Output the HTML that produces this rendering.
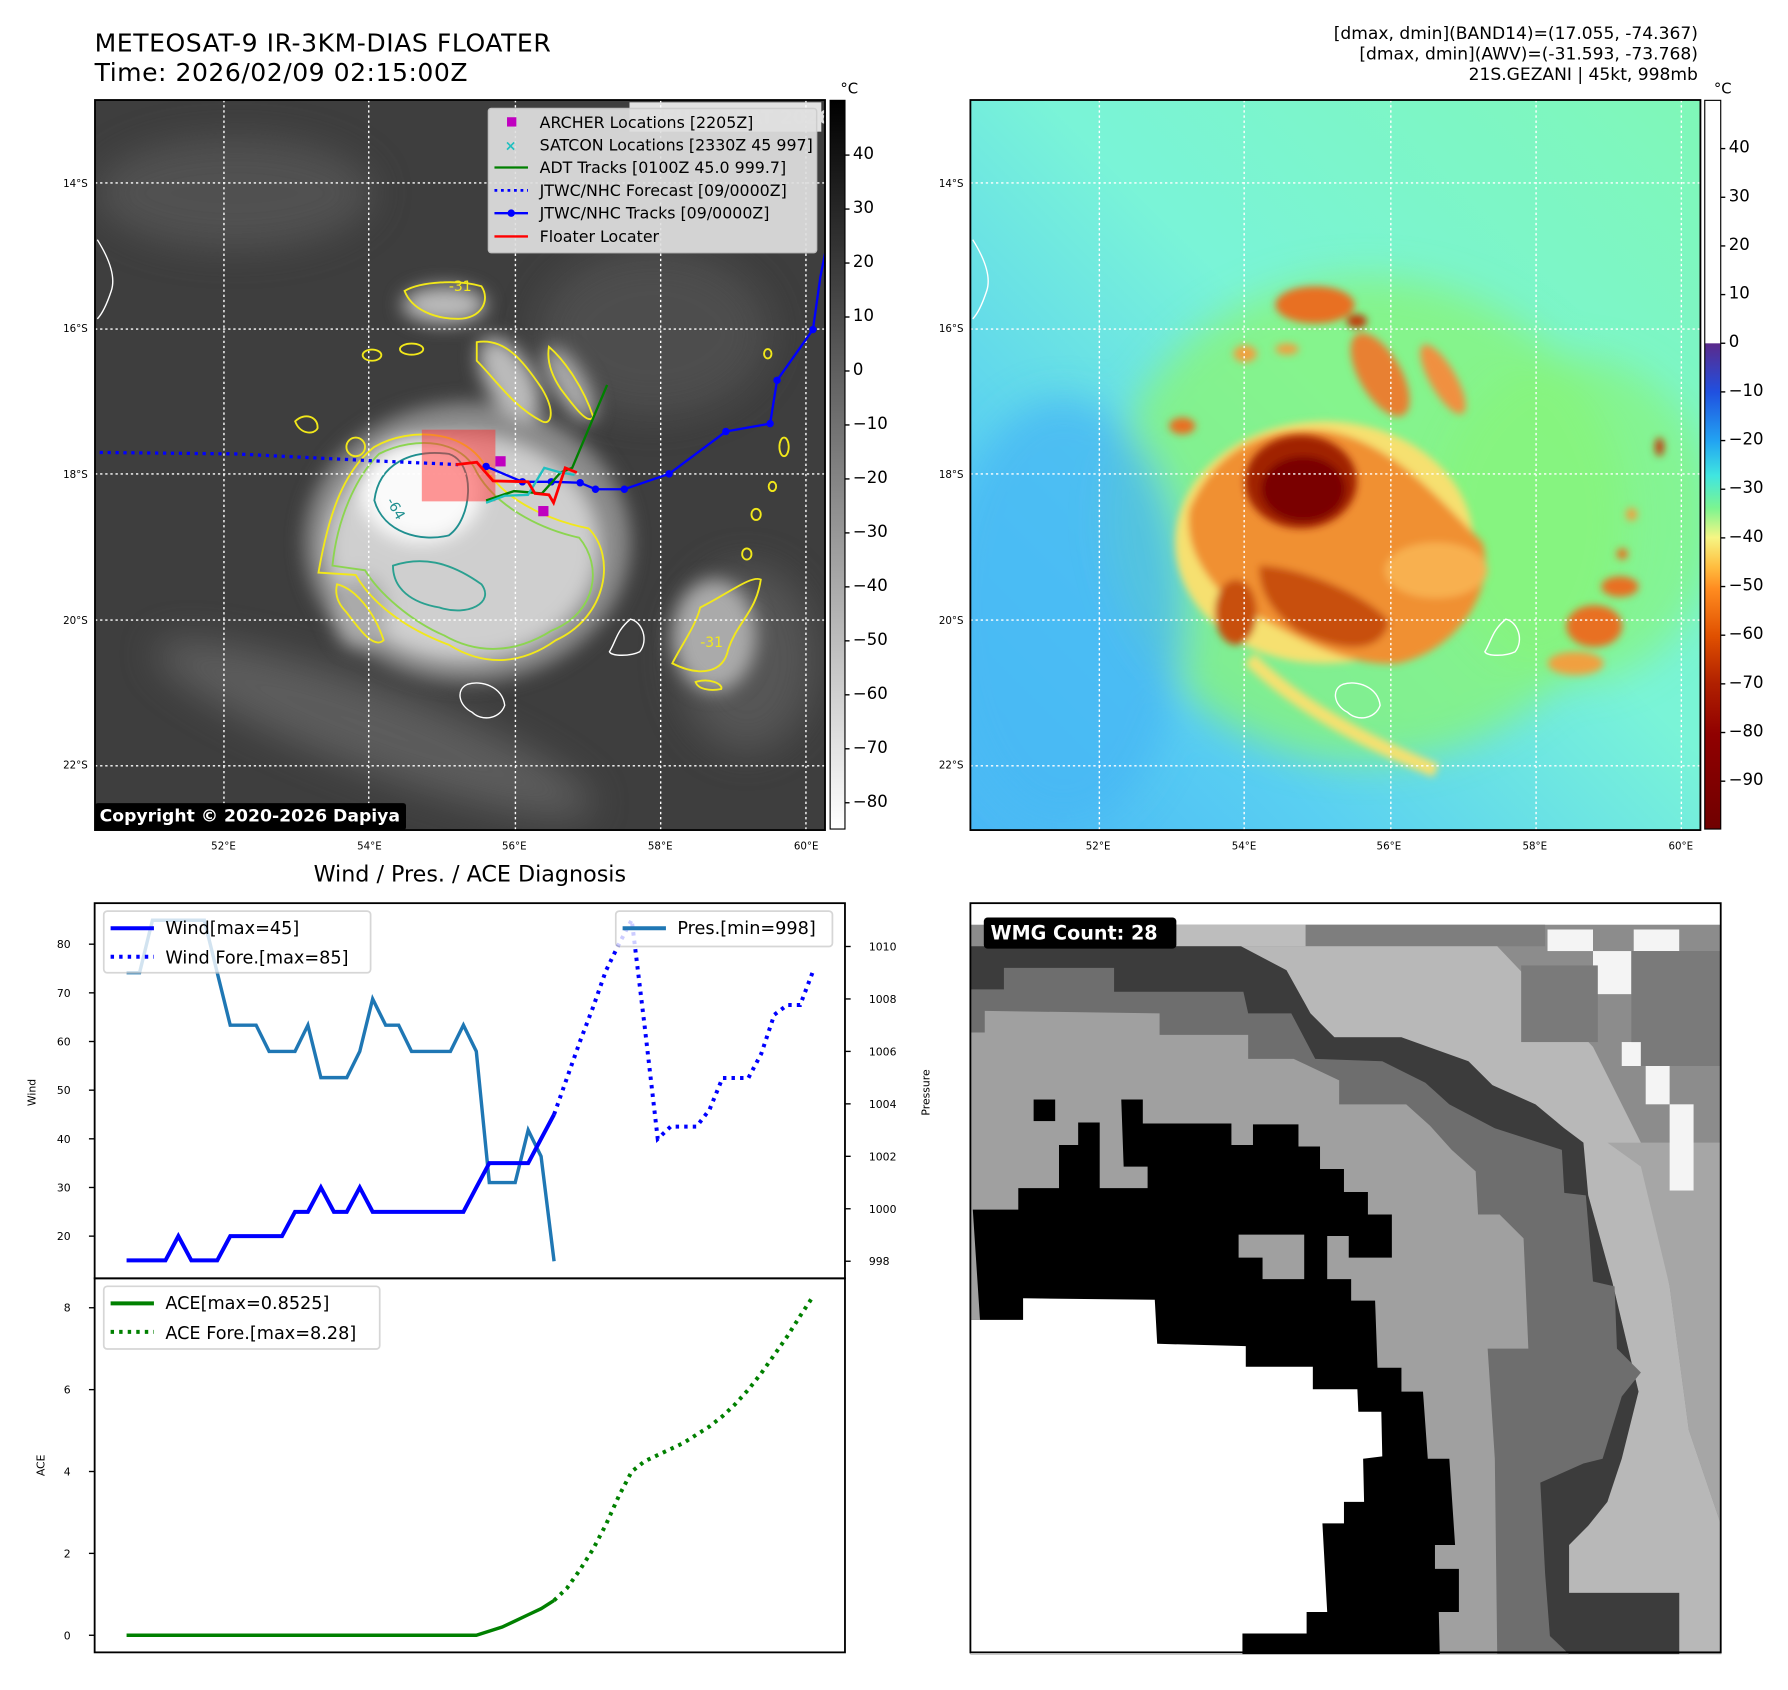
<!DOCTYPE html>
<html><head><meta charset="utf-8">
<style>
html,body{margin:0;padding:0;background:#fff;}
svg{display:block;font-family:"DejaVu Sans","Liberation Sans",sans-serif;}
</style></head>
<body>
<svg id="root" width="1788" height="1690" viewBox="0 0 1568 1482" preserveAspectRatio="none" xmlns="http://www.w3.org/2000/svg">
<defs>
<filter id="b8" x="-30%" y="-30%" width="160%" height="160%"><feGaussianBlur stdDeviation="8"/></filter>
<filter id="b20" x="-30%" y="-30%" width="160%" height="160%"><feGaussianBlur stdDeviation="20"/></filter>
<filter id="b40" x="-50%" y="-50%" width="200%" height="200%"><feGaussianBlur stdDeviation="40"/></filter>
<linearGradient id="gcb" x1="0" y1="0" x2="0" y2="1"><stop offset="0" stop-color="#000"/><stop offset="1" stop-color="#fff"/></linearGradient>
<linearGradient id="jcb" x1="0" y1="0" x2="0" y2="1">
<stop offset="0" stop-color="#fff"/><stop offset="0.333" stop-color="#fff"/>
<stop offset="0.334" stop-color="#5a2a8c"/><stop offset="0.40" stop-color="#2050e0"/>
<stop offset="0.468" stop-color="#22a4f2"/><stop offset="0.515" stop-color="#40e6e0"/>
<stop offset="0.56" stop-color="#7cf590"/><stop offset="0.60" stop-color="#f6f684"/>
<stop offset="0.64" stop-color="#ffbe40"/><stop offset="0.67" stop-color="#ff8c20"/>
<stop offset="0.735" stop-color="#e05000"/><stop offset="0.80" stop-color="#b02000"/>
<stop offset="0.87" stop-color="#900000"/><stop offset="1" stop-color="#700000"/></linearGradient>
<linearGradient id="bgR" x1="1" y1="0" x2="0" y2="1">
<stop offset="0" stop-color="#80f8b8"/><stop offset="0.45" stop-color="#7af4d8"/><stop offset="0.75" stop-color="#5ad0f2"/><stop offset="1" stop-color="#4ab8f6"/></linearGradient>
<clipPath id="clipL"><rect x="0" y="0" width="1568" height="1568"/></clipPath>
</defs>

<!-- titles -->
<text x="83" y="45" font-size="22" textLength="400">METEOSAT-9 IR-3KM-DIAS FLOATER</text>
<text x="83" y="71" font-size="22" textLength="327">Time: 2026/02/09 02:15:00Z</text>
<g font-size="15" text-anchor="end">
<text x="1489" y="34">[dmax, dmin](BAND14)=(17.055, -74.367)</text>
<text x="1489" y="52">[dmax, dmin](AWV)=(-31.593, -73.768)</text>
<text x="1489" y="70">21S.GEZANI | 45kt, 998mb</text>
</g>

<!-- LEFT MAP -->
<g>
<g transform="translate(83.3,87.7) scale(0.4083)" clip-path="url(#clipL)">
<rect x="0" y="0" width="1568" height="1568" fill="#3e3e3e"/>
<g filter="url(#b40)" opacity="0.7">
<ellipse cx="300" cy="200" rx="300" ry="120" fill="#5a5a5a"/>
<ellipse cx="1200" cy="500" rx="250" ry="180" fill="#555"/>
<ellipse cx="600" cy="1350" rx="500" ry="90" fill="#6a6a6a" transform="rotate(20 600 1350)"/>
<ellipse cx="1400" cy="1200" rx="150" ry="200" fill="#606060"/>
</g>
<g filter="url(#b20)">
<ellipse cx="800" cy="950" rx="350" ry="300" fill="#8a8a8a"/>
<ellipse cx="790" cy="960" rx="290" ry="240" fill="#cfcfcf"/>
<ellipse cx="700" cy="840" rx="130" ry="110" fill="#fafafa"/>
<ellipse cx="750" cy="440" rx="90" ry="40" fill="#bbb"/>
<ellipse cx="890" cy="600" rx="50" ry="100" fill="#bbb" transform="rotate(-30 890 600)"/>
<ellipse cx="1020" cy="610" rx="35" ry="90" fill="#aaa" transform="rotate(-30 1020 610)"/>
<ellipse cx="1330" cy="1150" rx="90" ry="120" fill="#aaa"/>
<ellipse cx="570" cy="1100" rx="60" ry="80" fill="#aaa"/>
</g>
<g fill="none" stroke-width="4">
<path d="M480,1015 C500,900 530,800 600,745 C680,700 800,710 840,790 C870,850 960,900 1060,920 C1120,980 1100,1110 990,1160 C920,1210 840,1220 760,1170 C680,1140 600,1090 560,1020 Z" stroke="#f2e81a"/>
<path d="M510,1000 C520,900 560,810 610,760 C690,720 790,730 820,800 C860,870 950,920 1040,940 C1090,1000 1080,1100 980,1140 C900,1190 820,1190 750,1150 C680,1120 610,1060 580,1010 Z" stroke="#8cd550"/>
<path d="M600,860 C610,780 680,750 760,760 C820,780 810,900 760,935 C700,950 620,930 600,860 Z" stroke="#1f8f8f"/>
<path d="M640,1000 C700,980 760,990 830,1040 C860,1080 800,1110 740,1090 C680,1080 640,1050 640,1000 Z" stroke="#2aa090"/>
<path d="M665,410 C700,390 780,385 830,400 C850,430 830,470 780,470 C730,470 680,450 665,410 Z" stroke="#f2e81a"/>
<path d="M820,520 C880,510 920,560 960,620 C990,670 980,700 960,690 C900,660 860,600 820,560 Z" stroke="#f2e81a"/>
<path d="M975,530 C1010,560 1050,620 1070,680 C1060,700 1030,660 1000,620 C980,590 970,560 975,530 Z" stroke="#f2e81a"/>
<path d="M430,690 C450,670 480,680 478,705 C470,720 440,718 430,690 Z" stroke="#f2e81a"/>
<path d="M1300,1090 C1360,1060 1410,1020 1430,1030 C1420,1100 1380,1120 1360,1180 C1350,1230 1300,1240 1240,1210 C1260,1170 1290,1130 1300,1090 Z" stroke="#f2e81a"/>
<path d="M520,1040 C560,1050 600,1100 620,1160 C600,1180 570,1140 540,1100 C520,1080 515,1060 520,1040 Z" stroke="#f2e81a"/>
<path d="M1290,1250 C1320,1240 1350,1255 1345,1265 C1320,1270 1295,1265 1290,1250 Z" stroke="#f2e81a"/>
<ellipse cx="1480" cy="745" rx="10" ry="20" stroke="#f2e81a"/>
<ellipse cx="1420" cy="890" rx="10" ry="12" stroke="#f2e81a"/>
<ellipse cx="1400" cy="975" rx="10" ry="12" stroke="#f2e81a"/>
<ellipse cx="1455" cy="830" rx="8" ry="10" stroke="#f2e81a"/>
<ellipse cx="1445" cy="545" rx="8" ry="10" stroke="#f2e81a"/>
<ellipse cx="560" cy="745" rx="20" ry="20" stroke="#f2e81a"/>
<ellipse cx="680" cy="535" rx="25" ry="12" stroke="#f2e81a"/>
<ellipse cx="595" cy="548" rx="20" ry="12" stroke="#f2e81a"/>
<text x="620" y="870" fill="#1f8f8f" font-size="30" stroke="none" transform="rotate(60 630 870)">-64</text>
<text x="760" y="410" fill="#f2e81a" font-size="30" stroke="none">-31</text>
<text x="1300" y="1175" fill="#f2e81a" font-size="30" stroke="none">-31</text>
</g>
<g fill="none" stroke="#fff" stroke-width="3">
<path d="M5,300 C30,340 45,380 35,410 C25,440 15,460 5,470"/>
<path d="M1150,1115 C1175,1120 1190,1160 1170,1185 C1150,1195 1110,1195 1105,1185 C1120,1160 1120,1140 1150,1115 Z"/>
<path d="M800,1255 C830,1245 875,1260 880,1300 C870,1330 830,1335 810,1315 C780,1300 775,1265 800,1255 Z"/>
</g>
<g stroke="#fff" stroke-width="3" stroke-dasharray="5 6">
<line x1="277" y1="0" x2="277" y2="1568"/><line x1="588" y1="0" x2="588" y2="1568"/><line x1="903" y1="0" x2="903" y2="1568"/><line x1="1215" y1="0" x2="1215" y2="1568"/><line x1="1527" y1="0" x2="1527" y2="1568"/>
<line x1="0" y1="178" x2="1568" y2="178"/><line x1="0" y1="492" x2="1568" y2="492"/><line x1="0" y1="803" x2="1568" y2="803"/><line x1="0" y1="1117" x2="1568" y2="1117"/><line x1="0" y1="1430" x2="1568" y2="1430"/>
</g>
<rect x="702" y="708" width="158" height="154" fill="#ff3030" opacity="0.5"/>
<path d="M10,757 L300,760 L600,775 L780,783" fill="none" stroke="#0000ff" stroke-width="7" stroke-dasharray="7 10"/>
<polyline points="840,787 918,820 980,820 1042,822 1075,836 1137,836 1233,803 1355,712 1450,695 1465,602 1542,493 1558,380 1568,330" fill="none" stroke="#0000ff" stroke-width="5"/>
<g fill="#0000ff"><circle cx="840" cy="787" r="8"/><circle cx="918" cy="820" r="8"/><circle cx="980" cy="820" r="8"/><circle cx="1042" cy="822" r="8"/><circle cx="1075" cy="836" r="8"/><circle cx="1137" cy="836" r="8"/><circle cx="1233" cy="803" r="8"/><circle cx="1355" cy="712" r="8"/><circle cx="1450" cy="695" r="8"/><circle cx="1465" cy="602" r="8"/><circle cx="1542" cy="493" r="8"/></g>
<polyline points="840,860 900,840 960,845 1000,800 1025,790 1100,612" fill="none" stroke="#008000" stroke-width="5"/>
<polyline points="840,865 880,850 930,848 965,790 1000,800 1030,805" fill="none" stroke="#20c0c0" stroke-width="5"/>
<polyline points="775,783 820,778 855,818 930,820 945,845 975,848 985,865 1010,790 1035,800" fill="none" stroke="#ff0000" stroke-width="6"/>
<rect x="860" y="765" width="22" height="22" fill="#c000c0"/>
<rect x="952" y="872" width="22" height="22" fill="#c000c0"/>
<rect x="1148" y="5" width="412" height="63" fill="#fff" opacity="0.85"/>
<text x="1165" y="50" font-size="40" fill="#ddd" font-weight="bold">© EUMETSAT 2026</text>
<g>
<rect x="845" y="18" width="705" height="310" rx="6" fill="#e0e0e0" opacity="0.92" stroke="#ccc" stroke-width="3"/>
<g font-size="34" fill="#000">
<rect x="885" y="37" width="20" height="20" fill="#c000c0"/><text x="955" y="60">ARCHER Locations [2205Z]</text>
<text x="880" y="109" fill="#20c0c0" font-size="30" font-weight="bold">×</text><text x="955" y="109">SATCON Locations [2330Z 45 997]</text>
<line x1="858" y1="145" x2="930" y2="145" stroke="#008000" stroke-width="5"/><text x="955" y="157">ADT Tracks [0100Z 45.0 999.7]</text>
<line x1="858" y1="194" x2="930" y2="194" stroke="#0000ff" stroke-width="6" stroke-dasharray="6 8"/><text x="955" y="206">JTWC/NHC Forecast [09/0000Z]</text>
<line x1="858" y1="243" x2="930" y2="243" stroke="#0000ff" stroke-width="5"/><circle cx="894" cy="243" r="8" fill="#0000ff"/><text x="955" y="255">JTWC/NHC Tracks [09/0000Z]</text>
<line x1="858" y1="293" x2="930" y2="293" stroke="#ff0000" stroke-width="5"/><text x="955" y="305">Floater Locater</text>
</g></g>
<rect x="0" y="1510" width="668" height="58" rx="6" fill="#000"/>
<text x="10" y="1550" font-size="37" font-weight="bold" fill="#fff">Copyright © 2020-2026 Dapiya</text>
</g>
<rect x="83.3" y="87.7" width="640.2" height="640.2" fill="none" stroke="#000" stroke-width="1.6"/>
</g>
<g font-size="9">
<g text-anchor="end"><text x="77" y="164">14°S</text><text x="77" y="291">16°S</text><text x="77" y="419">18°S</text><text x="77" y="547">20°S</text><text x="77" y="674">22°S</text></g>
<g text-anchor="middle"><text x="196" y="745">52°E</text><text x="324" y="745">54°E</text><text x="451" y="745">56°E</text><text x="579" y="745">58°E</text><text x="707" y="745">60°E</text></g>
</g>
<!-- colorbar 1 -->
<g>
<rect x="728" y="88" width="13" height="639" fill="url(#gcb)" stroke="#000" stroke-width="1"/>
<text x="737" y="82" font-size="13">°C</text>
<g font-size="14.5" id="cb1"></g>
</g>
<!-- RIGHT MAP -->
<g>
<g transform="translate(851,87.7) scale(0.4083)" clip-path="url(#clipL)">
<rect x="0" y="0" width="1568" height="1568" fill="url(#bgR)"/>
<g filter="url(#b40)">
<ellipse cx="850" cy="900" rx="560" ry="520" fill="#88f47a" opacity="0.8"/>
<ellipse cx="1300" cy="900" rx="300" ry="350" fill="#88f47a" opacity="0.7"/>
<ellipse cx="200" cy="1100" rx="260" ry="460" fill="#48b8f4" opacity="0.8"/>
</g>
<g filter="url(#b8)">
<ellipse cx="760" cy="950" rx="320" ry="260" fill="#f6e070"/>
<path d="M470,880 C520,760 620,700 760,710 C900,730 1000,850 1100,950 C1130,1050 1050,1180 920,1210 C780,1220 650,1120 560,1080 C500,1020 460,960 470,880 Z" fill="#f09030"/>
<path d="M620,1000 C700,1000 850,1060 900,1120 C880,1200 780,1180 700,1140 C650,1100 620,1060 620,1000 Z" fill="#c85010"/>
<ellipse cx="1000" cy="1010" rx="110" ry="60" fill="#f8b050"/>
<ellipse cx="740" cy="440" rx="85" ry="40" fill="#e87020"/>
<ellipse cx="880" cy="590" rx="45" ry="100" fill="#e88030" transform="rotate(-30 880 590)"/>
<ellipse cx="1015" cy="600" rx="28" ry="85" fill="#f09040" transform="rotate(-30 1015 600)"/>
<ellipse cx="1340" cy="1130" rx="60" ry="45" fill="#e87020"/>
<ellipse cx="1395" cy="1045" rx="40" ry="22" fill="#e87020"/>
<ellipse cx="1300" cy="1210" rx="60" ry="25" fill="#f0a040"/>
<ellipse cx="570" cy="1100" rx="45" ry="70" fill="#c85010"/>
<ellipse cx="455" cy="700" rx="28" ry="18" fill="#e87020"/>
<ellipse cx="830" cy="475" rx="22" ry="15" fill="#c04010"/>
<ellipse cx="590" cy="545" rx="25" ry="18" fill="#f0a040"/>
<ellipse cx="680" cy="535" rx="25" ry="12" fill="#f0a040"/>
<ellipse cx="1480" cy="745" rx="10" ry="20" fill="#c04010"/>
<ellipse cx="1420" cy="890" rx="12" ry="14" fill="#f0a040"/>
<ellipse cx="1400" cy="975" rx="12" ry="12" fill="#e87020"/>
<path d="M600,1200 C700,1300 850,1380 1000,1440" fill="none" stroke="#f6e070" stroke-width="30"/>
</g>
<g filter="url(#b8)">
<ellipse cx="710" cy="820" rx="120" ry="100" fill="#a02000"/>
<ellipse cx="715" cy="835" rx="90" ry="70" fill="#7a0000"/>
</g>
<g fill="none" stroke="#fff" stroke-width="3">
<path d="M5,300 C30,340 45,380 35,410 C25,440 15,460 5,470"/>
<path d="M1150,1115 C1175,1120 1190,1160 1170,1185 C1150,1195 1110,1195 1105,1185 C1120,1160 1120,1140 1150,1115 Z"/>
<path d="M800,1255 C830,1245 875,1260 880,1300 C870,1330 830,1335 810,1315 C780,1300 775,1265 800,1255 Z"/>
</g>
<g stroke="#fff" stroke-width="3" stroke-dasharray="5 6">
<line x1="277" y1="0" x2="277" y2="1568"/><line x1="588" y1="0" x2="588" y2="1568"/><line x1="903" y1="0" x2="903" y2="1568"/><line x1="1215" y1="0" x2="1215" y2="1568"/><line x1="1527" y1="0" x2="1527" y2="1568"/>
<line x1="0" y1="178" x2="1568" y2="178"/><line x1="0" y1="492" x2="1568" y2="492"/><line x1="0" y1="803" x2="1568" y2="803"/><line x1="0" y1="1117" x2="1568" y2="1117"/><line x1="0" y1="1430" x2="1568" y2="1430"/>
</g>
</g>
<rect x="851" y="87.7" width="640.2" height="640.2" fill="none" stroke="#000" stroke-width="1.6"/>
</g>
<g font-size="9">
<g text-anchor="end"><text x="845" y="164">14°S</text><text x="845" y="291">16°S</text><text x="845" y="419">18°S</text><text x="845" y="547">20°S</text><text x="845" y="674">22°S</text></g>
<g text-anchor="middle"><text x="963" y="745">52°E</text><text x="1091" y="745">54°E</text><text x="1218" y="745">56°E</text><text x="1346" y="745">58°E</text><text x="1474" y="745">60°E</text></g>
</g>
<g>
<rect x="1495" y="88" width="14" height="639" fill="url(#jcb)" stroke="#000" stroke-width="1"/>
<text x="1503" y="82" font-size="13">°C</text>
<g font-size="14.5" id="cb2"></g>
</g>

<!-- Diagnosis charts -->
<text x="412" y="773" font-size="19.5" text-anchor="middle">Wind / Pres. / ACE Diagnosis</text>
<g id="chart">
<rect x="83" y="792" width="658" height="329" fill="#fff"/>
<rect x="83" y="1121" width="658" height="328" fill="#fff"/>
<g id="marks"></g>
<g id="ticks" font-size="9.5"></g>
<g>
<rect x="91" y="799" width="234" height="54" rx="3" fill="#fff" opacity="0.8" stroke="#ccc" stroke-width="1.5"/>
<line x1="97" y1="814" x2="135" y2="814" stroke="#0000ff" stroke-width="3.5"/>
<line x1="97" y1="839" x2="135" y2="839" stroke="#0000ff" stroke-width="3.5" stroke-dasharray="3 4.5"/>
<text x="145" y="819" font-size="15.5">Wind[max=45]</text>
<text x="145" y="845" font-size="15.5">Wind Fore.[max=85]</text>
</g>
<g>
<rect x="540" y="799" width="190" height="31" rx="3" fill="#fff" opacity="0.8" stroke="#ccc" stroke-width="1.5"/>
<line x1="546" y1="814" x2="584" y2="814" stroke="#1f77b4" stroke-width="3.5"/>
<text x="594" y="819" font-size="15.5">Pres.[min=998]</text>
</g>
<g>
<rect x="91" y="1128" width="242" height="55" rx="3" fill="#fff" opacity="0.8" stroke="#ccc" stroke-width="1.5"/>
<line x1="97" y1="1143" x2="135" y2="1143" stroke="#008000" stroke-width="3.5"/>
<line x1="97" y1="1168" x2="135" y2="1168" stroke="#008000" stroke-width="3.5" stroke-dasharray="3 4.5"/>
<text x="145" y="1148" font-size="15.5">ACE[max=0.8525]</text>
<text x="145" y="1174" font-size="15.5">ACE Fore.[max=8.28]</text>
</g>
<rect x="83" y="792" width="658" height="329" fill="none" stroke="#000" stroke-width="1.6"/>
<rect x="83" y="1121" width="658" height="328" fill="none" stroke="#000" stroke-width="1.6"/>
<text transform="translate(31,958) rotate(-90)" font-size="9.5" text-anchor="middle">Wind</text>
<text transform="translate(815,958) rotate(-90)" font-size="9.5" text-anchor="middle">Pressure</text>
<text transform="translate(39,1285) rotate(-90)" font-size="9.5" text-anchor="middle">ACE</text>
</g>

<!-- WMG panel -->
<g>
<g transform="translate(851,792) scale(0.42)">
<rect x="0" y="0" width="1568" height="1568" fill="#fff"/>
<rect x="0" y="45" width="1568" height="1523" fill="#8c8c8c"/>
<polygon points="430,45 700,45 700,90 430,90" fill="#bdbdbd"/>
<polygon points="700,45 1200,45 1200,90 700,90" fill="#7e7e7e"/>
<polygon points="560,90 1100,90 1300,300 1400,500 1460,800 1500,1100 1568,1300 1568,1568 1480,1568 1480,1440 1250,1440 1250,1340 1330,1250 1395,1020 1340,790 1290,610 1240,470 1090,380 900,280 760,280 710,230 660,140" fill="#b8b8b8"/>
<polygon points="1330,500 1568,500 1568,1300 1500,1100 1460,800 1400,550" fill="#a6a6a6"/>
<g fill="#f4f4f4"><rect x="1205" y="55" width="95" height="45"/><rect x="1300" y="100" width="80" height="90"/><rect x="1385" y="55" width="95" height="45"/><rect x="1360" y="290" width="40" height="50"/><rect x="1460" y="420" width="50" height="180"/><rect x="1410" y="340" width="50" height="80"/></g>
<g fill="#7a7a7a"><rect x="1380" y="100" width="188" height="190"/><rect x="1150" y="130" width="160" height="160"/><rect x="1400" y="290" width="168" height="50"/></g>
<polygon points="0,90 565,90 660,140 710,230 760,280 900,280 1040,330 1090,380 1180,420 1240,470 1280,500 1290,610 1340,790 1395,1020 1360,1160 1330,1250 1290,1300 1250,1340 1250,1440 1480,1440 1480,1568 0,1568" fill="#3c3c3c"/>
<polygon points="0,180 70,180 70,135 300,135 300,185 570,185 580,230 670,230 720,325 860,330 950,375 1000,420 1095,470 1235,515 1240,605 1285,610 1300,790 1345,800 1350,930 1400,980 1360,1030 1320,1160 1280,1170 1190,1210 1200,1400 1210,1530 1250,1568 0,1568" fill="#6e6e6e"/>
<polygon points="0,270 30,270 30,225 395,230 395,275 580,275 580,325 675,325 770,370 770,420 910,420 960,465 1005,515 1055,560 1060,650 1105,650 1155,700 1165,930 1080,930 1095,1160 1100,1568 0,1568" fill="#a0a0a0"/>
<polygon points="5,640 100,640 100,595 185,595 185,505 225,505 225,458 270,458 270,595 370,595 370,550 320,550 315,410 360,410 360,460 545,460 545,505 590,505 590,462 685,462 685,508 730,508 730,555 780,555 780,603 830,603 830,650 880,650 880,740 790,740 790,695 745,695 745,785 795,785 795,830 845,830 850,970 900,970 900,1020 945,1020 955,1160 1000,1160 1012,1340 970,1340 970,1390 1020,1390 1020,1480 978,1480 980,1568 0,1568 0,870 20,870" fill="#000"/>
<rect x="132" y="410" width="45" height="45" fill="#000"/>
<polygon points="560,692 697,692 697,785 610,785 610,740 560,740" fill="#a0a0a0"/>
<polygon points="0,870 110,870 110,825 385,828 390,920 575,925 575,968 715,968 715,1015 808,1015 810,1062 858,1062 860,1155 820,1160 822,1250 780,1250 780,1295 735,1295 745,1480 702,1480 702,1525 568,1525 568,1568 0,1568" fill="#fff"/>
<rect x="28" y="30" width="402" height="65" rx="8" fill="#000"/>
<text x="42" y="76" font-size="40" font-weight="bold" fill="#fff">WMG Count: 28</text>
</g>
<rect x="851" y="792" width="658" height="657" fill="none" stroke="#000" stroke-width="1.6"/>
</g>
</svg>
<script>
// ---- chart data ----
const windObs = [15,15,15,15,20,15,15,15,20,20,20,20,20,25,25,30,25,25,30,25,25,25,25,25,25,25,25,30,35,35,35,35,40,45];
const presObs = [1009,1009,1011,1011,1011,1011,1011,1009,1007,1007,1007,1006,1006,1006,1007,1005,1005,1005,1006,1008,1007,1007,1006,1006,1006,1006,1007,1006,1001,1001,1001,1003,1002,998];
const windFore = [45,52.5,60,67,74.5,80,85,63,40,42.5,42.5,42.5,46,52.5,52.5,52.5,57.5,65.5,67.5,67.5,74.5];
const aceObs = [0,0,0,0,0,0,0,0,0,0,0,0,0,0,0,0,0,0,0,0,0,0,0,0,0,0,0,0,0.1,0.2,0.35,0.5,0.65,0.85];
const aceFore = [0.85,1.15,1.6,2.1,2.7,3.4,4.0,4.25,4.4,4.55,4.7,4.9,5.1,5.35,5.65,6.0,6.4,6.85,7.3,7.8,8.28];
const foreStart = 33;
const windTicks = [20,30,40,50,60,70,80];
const presTicks = [998,1000,1002,1004,1006,1008,1010];
const aceTicks = [0,2,4,6,8];
const cb1Ticks = [40,30,20,10,0,-10,-20,-30,-40,-50,-60,-70,-80];
const cb2Ticks = [40,30,20,10,0,-10,-20,-30,-40,-50,-60,-70,-80,-90];

const NS = 'http://www.w3.org/2000/svg';
const xs = i => 111 + 11.36 * i;
const yW = v => 1084 - (v - 20) * 4.267;
const yP = p => 1106 - (p - 998) * 23;
const yA = a => 1434 - a * 35.9;
const yC1 = v => 136 + (40 - v) * 4.733;
const yC2 = v => 301 - v * 4.267;

function mk(tag, attrs, parent) {
  const e = document.createElementNS(NS, tag);
  for (const k in attrs) e.setAttribute(k, attrs[k]);
  parent.appendChild(e);
  return e;
}
function pts(arr, off, yf) { return arr.map((v, i) => xs(i + off).toFixed(1) + ',' + yf(v).toFixed(1)).join(' '); }

const marks = document.getElementById('marks');
let l;
l = mk('polyline', {points: pts(presObs, 0, yP), fill: 'none', stroke: '#1f77b4', 'stroke-width': 3}, marks);


l = mk('polyline', {points: pts(windObs, 0, yW), fill: 'none', stroke: '#0000ff', 'stroke-width': 3.5}, marks);


l = mk('polyline', {points: pts(windFore, foreStart, yW), fill: 'none', stroke: '#0000ff', 'stroke-width': 3.5, 'stroke-dasharray': '3 4.5'}, marks);


l = mk('polyline', {points: pts(aceObs, 0, yA), fill: 'none', stroke: '#008000', 'stroke-width': 3}, marks);


l = mk('polyline', {points: pts(aceFore, foreStart, yA), fill: 'none', stroke: '#008000', 'stroke-width': 3.5, 'stroke-dasharray': '3 4.5'}, marks);



const ticks = document.getElementById('ticks');
function tick(x1, x2, y, label, tx, anchor, parent, name) {
  const t = mk('line', {x1: x1, x2: x2, y1: y, y2: y, stroke: '#000', 'stroke-width': 1.2}, parent);
  
  
  const s = mk('text', {x: tx, y: y + 3.5, 'text-anchor': anchor}, parent);
  s.textContent = label;
  
  
}
windTicks.forEach(v => tick(78, 83, yW(v), String(v), 62, 'end', ticks, 'wind'));
presTicks.forEach(v => tick(741, 746, yP(v), String(v), 762, 'start', ticks, 'pressure'));
aceTicks.forEach(v => tick(78, 83, yA(v), String(v), 62, 'end', ticks, 'ace'));
const fmt = v => (v < 0 ? '\u2212' + Math.abs(v) : String(v));
const cb1 = document.getElementById('cb1');
cb1Ticks.forEach(v => tick(741, 745, yC1(v), fmt(v), 748, 'start', cb1, 'ir-colorbar'));
const cb2 = document.getElementById('cb2');
cb2Ticks.forEach(v => tick(1509, 1513, yC2(v), fmt(v), 1516, 'start', cb2, 'awv-colorbar'));
</script>
</body></html>
